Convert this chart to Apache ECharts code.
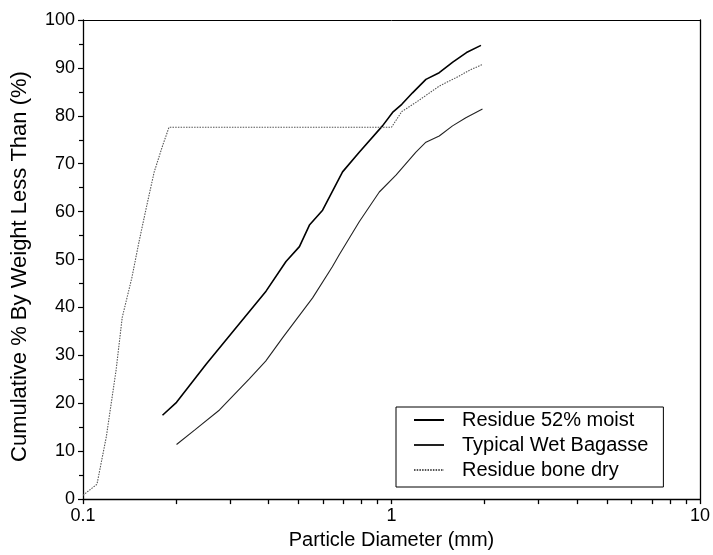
<!DOCTYPE html>
<html><head><meta charset="utf-8">
<script src="https://cdn.jsdelivr.net/npm/echarts@6/dist/echarts.min.js"></script>
<style>html,body{margin:0;padding:0;background:#fff}#c{width:713px;height:555px}</style>
</head><body><div id="c"></div>
<script>
// Data
const moistX = [0.181, 0.201, 0.251, 0.303, 0.392, 0.455, 0.503, 0.542, 0.598, 0.694, 0.786, 0.935, 1.008, 1.08, 1.17, 1.293, 1.428, 1.58, 1.75, 1.95];
const moistY = [17.5, 20.2, 28.2, 34.6, 43.4, 49.6, 52.7, 57.2, 60.3, 68.3, 72.4, 77.9, 80.7, 82.4, 84.8, 87.6, 89.0, 91.2, 93.2, 94.7];

const wetX = [0.201, 0.231, 0.277, 0.346, 0.391, 0.444, 0.555, 0.643, 0.677, 0.786, 0.913, 1.034, 1.2, 1.293, 1.428, 1.577, 1.742, 1.972];
const wetY = [11.4, 14.5, 18.6, 25.1, 28.8, 33.7, 42.0, 48.5, 51.0, 57.9, 64.1, 67.6, 72.4, 74.5, 75.8, 77.9, 79.6, 81.4];

const dryX = [0.1, 0.111, 0.119, 0.128, 0.134, 0.144, 0.152, 0.161, 0.170, 0.181, 0.19, 1.0, 1.08, 1.2, 1.428, 1.657, 1.8, 1.97];
const dryY = [0.8, 3.1, 13.0, 26.9, 37.9, 46.2, 53.8, 61.3, 68.2, 73.7, 77.6, 77.6, 80.9, 82.8, 86.2, 88.3, 89.6, 90.7];

const seriesNames = ['Residue 52% moist', 'Typical Wet Bagasse', 'Residue bone dry'];
const xTickValues = [0.1, 0.2, 0.3, 0.4, 0.5, 0.6, 0.7, 0.8, 0.9, 1, 2, 3, 4, 5, 6, 7, 8, 9, 10];
const xLabelValues = [0.1, 1, 10];
const xAxisTitle = 'Particle Diameter (mm)';
const yAxisTitle = 'Cumulative % By Weight Less Than (%)';

const pairs = (xs, ys) => xs.map((x, i) => [x, ys[i]]);
const FONT = "'Liberation Sans', Arial, Helvetica, sans-serif";

const chart = echarts.init(document.getElementById('c'));
chart.setOption({
  animation: false,
  grid: {left: 83, right: 12, top: 20, bottom: 52},
  legend: {
    orient: 'vertical', left: 396, top: 407,
    padding: [3, 15, 7, 17],
    itemGap: 5, itemWidth: 30, itemHeight: 14,
    borderColor: '#000', borderWidth: 1,
    data: seriesNames,
    itemStyle: {opacity: 0},
    textStyle: {fontFamily: FONT, fontSize: 20, color: '#000', lineHeight: 20, padding: [0, 0, 0, 13]}
  },
  xAxis: [{
    type: 'log', logBase: 10, min: 0.1, max: 10, position: 'bottom',
    name: xAxisTitle, nameLocation: 'middle', nameGap: 25,
    nameTextStyle: {fontFamily: FONT, fontSize: 20, color: '#000'},
    axisLine: {show: true, onZero: false, lineStyle: {color: '#000', width: 1.3}},
    axisTick: {show: true, inside: false, length: 5, lineStyle: {color: '#000', width: 1.3}, customValues: xTickValues},
    axisLabel: {fontFamily: FONT, fontSize: 18, color: '#000', margin: 8, customValues: xLabelValues},
    splitLine: {show: false}
  }, {
    type: 'log', logBase: 10, min: 0.1, max: 10, position: 'top',
    axisLine: {show: true, onZero: false, lineStyle: {color: '#000', width: 1}},
    axisTick: {show: false}, axisLabel: {show: false}, splitLine: {show: false}
  }],
  yAxis: [{
    type: 'value', min: 0, max: 100, interval: 10, position: 'left',
    name: yAxisTitle, nameLocation: 'middle', nameGap: 52,
    nameTextStyle: {fontFamily: FONT, fontSize: 22, color: '#000', padding: [0, 14, 0, 0]},
    axisLine: {show: true, onZero: false, lineStyle: {color: '#000', width: 1.3}},
    axisTick: {show: true, length: 5, lineStyle: {color: '#000', width: 1.2}},
    minorTick: {show: true, splitNumber: 2, length: 4, lineStyle: {color: '#000', width: 1.2}},
    axisLabel: {fontFamily: FONT, fontSize: 18, color: '#000', margin: 8},
    splitLine: {show: false}
  }, {
    type: 'value', min: 0, max: 100, interval: 10, position: 'right',
    axisLine: {show: true, onZero: false, lineStyle: {color: '#000', width: 1.3}},
    axisTick: {show: false}, axisLabel: {show: false}, splitLine: {show: false}
  }],
  series: [{
    name: seriesNames[0], type: 'line', xAxisIndex: 0, yAxisIndex: 0, symbol: 'none',
    data: pairs(moistX, moistY),
    lineStyle: {color: '#000', width: 1.6}, itemStyle: {color: '#000'}
  }, {
    name: seriesNames[1], type: 'line', xAxisIndex: 0, yAxisIndex: 0, symbol: 'none',
    data: pairs(wetX, wetY),
    lineStyle: {color: '#222', width: 1.1}, itemStyle: {color: '#222'}
  }, {
    name: seriesNames[2], type: 'line', xAxisIndex: 0, yAxisIndex: 0, symbol: 'none',
    data: pairs(dryX, dryY),
    lineStyle: {color: '#555', width: 1.1, type: [1.5, 1.2]}, itemStyle: {color: '#555'}
  }]
});
</script></body></html>
